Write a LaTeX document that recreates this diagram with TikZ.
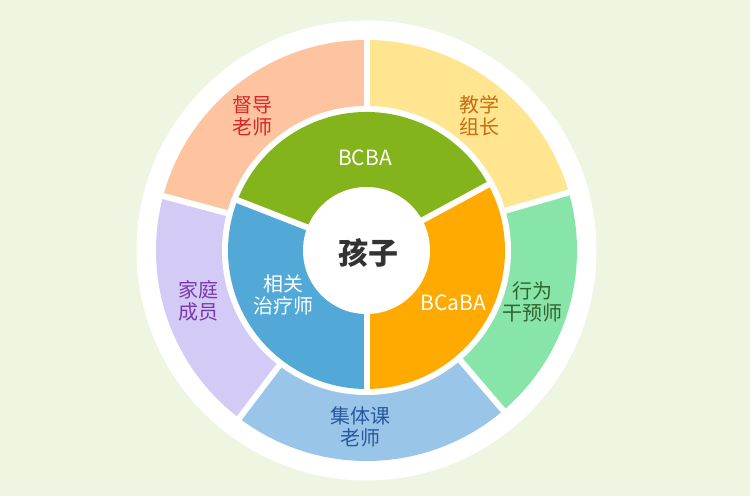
\documentclass[tikz,border=0pt]{standalone}
\usepackage{fontspec}
\setmainfont{Noto Sans CJK SC}
\definecolor{bgc}{RGB}{238,245,224}
\definecolor{peach}{RGB}{254,196,160}
\definecolor{lyellow}{RGB}{255,229,143}
\definecolor{lgreen}{RGB}{136,229,170}
\definecolor{lblue}{RGB}{152,197,232}
\definecolor{lpurple}{RGB}{211,203,245}
\definecolor{bgreen}{RGB}{132,180,28}
\definecolor{bblue}{RGB}{82,169,215}
\definecolor{borange}{RGB}{255,170,0}
\definecolor{tred}{RGB}{214,38,43}
\definecolor{torange}{RGB}{200,108,18}
\definecolor{tgreen}{RGB}{50,100,45}
\definecolor{tblue}{RGB}{42,88,160}
\definecolor{tpurple}{RGB}{122,56,170}
\definecolor{tdark}{RGB}{51,51,51}
\tikzset{
  lbl/.style={inner sep=0pt, align=center, font=\fontsize{20}{22}\selectfont},
  latinlbl/.style={inner sep=0pt, align=center, font=\fontsize{21}{23}\selectfont},
  gapline/.style={draw=white, line width=6pt},
}
\begin{document}
\begin{tikzpicture}
\useasboundingbox (0pt,0pt) rectangle (750pt,496pt);
\fill[bgc] (0pt,0pt) rectangle (750pt,496pt);
\begin{scope}[shift={(366.5pt,245.5pt)}]
  \fill[white] (0pt,0pt) circle[radius=230pt];
  % outer ring sectors
  \fill[lyellow] (0pt,0pt) -- (16:210.5pt) arc[start angle=16, end angle=90, radius=210.5pt] -- cycle;
  \fill[peach] (0pt,0pt) -- (90:210.5pt) arc[start angle=90, end angle=165, radius=210.5pt] -- cycle;
  \fill[lpurple] (0pt,0pt) -- (165:210.5pt) arc[start angle=165, end angle=232.8, radius=210.5pt] -- cycle;
  \fill[lblue] (0pt,0pt) -- (232.8:210.5pt) arc[start angle=232.8, end angle=310.5, radius=210.5pt] -- cycle;
  \fill[lgreen] (0pt,0pt) -- (310.5:210.5pt) arc[start angle=310.5, end angle=376, radius=210.5pt] -- cycle;
  \foreach \a in {16,90,165,232.8,310.5}
    \draw[gapline] (\a:140pt) -- (\a:214pt);
  \fill[white] (0pt,0pt) circle[radius=144.5pt];
  % inner ring sectors
  \fill[bgreen] (0pt,0pt) -- (28.4:138.5pt) arc[start angle=28.4, end angle=158.7, radius=138.5pt] -- cycle;
  \fill[bblue] (0pt,0pt) -- (158.7:138.5pt) arc[start angle=158.7, end angle=270, radius=138.5pt] -- cycle;
  \fill[borange] (0pt,0pt) -- (270:138.5pt) arc[start angle=270, end angle=388.4, radius=138.5pt] -- cycle;
  \foreach \a in {28.4,158.7,270}
    \draw[gapline] (\a:55pt) -- (\a:141pt);
  \fill[white] (0pt,0pt) circle[radius=63.5pt];
\end{scope}
\node[lbl, text=tred] (dudao) at (252.5pt,380pt) {督导\\老师};
\node[lbl, text=torange] (jiaoxue) at (479pt,380pt) {教学\\组长};
\node[latinlbl, text=white] (bcba) at (365pt,338pt) {BCBA};
\node[inner sep=0pt, text=tdark, font=\fontsize{30}{32}\selectfont\bfseries] (haizi) at (368pt,243pt) {孩子};
\node[lbl, text=white] (xiangguan) at (283pt,201pt) {相关\\治疗师};
\node[lbl, text=tpurple] (jiating) at (198pt,195pt) {家庭\\成员};
\node[latinlbl, text=white] (bcaba) at (453pt,193pt) {BCaBA};
\node[lbl, text=tgreen] (xingwei) at (532pt,194pt) {行为\\干预师};
\node[lbl, text=tblue] (jiti) at (360pt,69pt) {集体课\\老师};
\end{tikzpicture}
\end{document}
